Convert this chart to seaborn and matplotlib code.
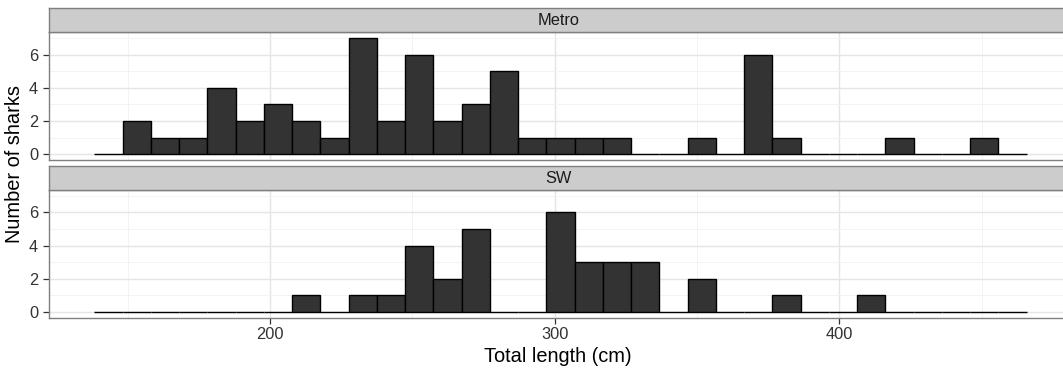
import numpy as np
import pandas as pd
import matplotlib
matplotlib.use("Agg")
import matplotlib.pyplot as plt
import seaborn as sns

# ---- data ----
regions = ["Metro", "SW"]
bin_start = 138.3
bin_width = 9.925
metro_counts = [0, 2, 1, 1, 4, 2, 3, 2, 1, 7, 2, 6, 2, 3, 5, 1, 1, 1, 1, 0, 0, 1, 0, 6, 1, 0, 0, 0, 1, 0, 0, 1, 0]
sw_counts = [0, 0, 0, 0, 0, 0, 0, 1, 0, 1, 1, 4, 2, 5, 0, 0, 6, 3, 3, 3, 0, 2, 0, 0, 1, 0, 0, 1, 0, 0, 0, 0, 0]
x_ticks = [200, 300, 400]
y_ticks = [0, 2, 4, 6]
x_label = "Total length (cm)"
y_label = "Number of sharks"

n_bins = len(metro_counts)
edges = bin_start + bin_width * np.arange(n_bins + 1)
centers = edges[:-1] + bin_width / 2
df = pd.DataFrame({
    "length": np.concatenate([centers, centers]),
    "count": metro_counts + sw_counts,
    "region": ["Metro"] * n_bins + ["SW"] * n_bins,
})

sns.set_theme(style="white")
plt.rcParams["font.family"] = ["Liberation Sans", "DejaVu Sans"]

W, H = 1063, 370
fig = plt.figure(figsize=(W / 100, H / 100), dpi=100)

def fx(px):
    return px / W

def fy(py):
    return 1 - py / H

left = fx(49.3)
width = (1067 - 49.3) / W
panel_h = 127.7 / H
strip_h = 24 / H
layout = {"Metro": (32.3, 8.3), "SW": (190.0, 166.0)}

border = "#7F7F7F"
tick_fs = 11.8
for i, reg in enumerate(regions):
    ptop, stop = layout[reg]
    ax = fig.add_axes([left, fy(ptop) - panel_h, width, panel_h])
    sub = df[df["region"] == reg]
    sns.histplot(data=sub, x="length", weights="count", bins=n_bins,
                 binrange=(float(edges[0]), float(edges[-1])), ax=ax,
                 color="#333333", edgecolor="black", linewidth=1.0, alpha=1.0)
    ax.set_xlim(122.5, 480)
    ax.set_ylim(-0.35, 7.35)
    ax.set_yticks(y_ticks)
    ax.set_yticks([1, 3, 5, 7], minor=True)
    ax.set_xticks(x_ticks)
    ax.set_xticks([150, 250, 350, 450], minor=True)
    ax.set_axisbelow(True)
    ax.grid(which="major", color="#E5E5E5", linewidth=1.0)
    ax.grid(which="minor", color="#F3F3F3", linewidth=0.7)
    for s in ax.spines.values():
        s.set_color(border)
        s.set_linewidth(1.0)
    ax.tick_params(axis="both", which="major", length=4.5, width=0.9, color="#333333",
                   labelsize=tick_fs, labelcolor="#333333", left=True, bottom=True)
    ax.tick_params(axis="y", which="major", pad=3.5)
    ax.tick_params(axis="x", which="major", pad=2.5)
    ax.tick_params(axis="both", which="minor", length=0)
    ax.set_ylabel("")
    ax.set_xlabel("")
    if i == 0:
        ax.tick_params(axis="x", which="major", bottom=False, labelbottom=False)
    # strip
    sax = fig.add_axes([left, fy(stop) - strip_h, width, strip_h])
    sax.set_facecolor("#CCCCCC")
    sax.set_xticks([])
    sax.set_yticks([])
    for s in sax.spines.values():
        s.set_color(border)
        s.set_linewidth(1.0)
    sax.text(0.5, 0.5, reg, transform=sax.transAxes, ha="center", va="center",
             fontsize=tick_fs, color="#1A1A1A")

fig.text(fx(558), fy(357), x_label, ha="center", va="center", fontsize=14.4, color="black")
fig.text(fx(15), fy(164), y_label, ha="center", va="center", rotation=90, fontsize=14.4, color="black")

fig.savefig("out.png", dpi=100)
